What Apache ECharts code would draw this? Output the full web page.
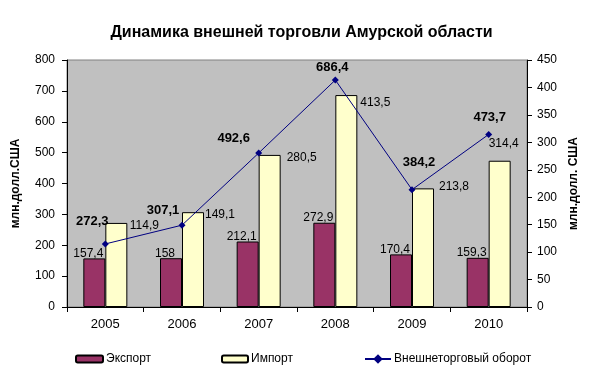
<!DOCTYPE html>
<html>
<head>
<meta charset="utf-8">
<script src="https://cdn.jsdelivr.net/npm/echarts@6/dist/echarts.min.js"></script>
<style>
html,body{margin:0;padding:0;background:#fff;}
#chart{width:603px;height:387px;}
</style>
</head>
<body>
<div id="chart"></div>
<script>
var years = ['2005', '2006', '2007', '2008', '2009', '2010'];
var exportVals = [157.4, 158, 212.1, 272.9, 170.4, 159.3];
var importVals = [114.9, 149.1, 280.5, 413.5, 213.8, 314.4];
var turnoverVals = [272.3, 307.1, 492.6, 686.4, 384.2, 473.7];
var leftTicks = [0, 800, 100];
var rightTicks = [0, 450, 50];

// label placement (style only)
var barLabelOffsets = [[28, 9], [27, 9], [32, 9], [29, 14], [31, 4], [4, -11]];
var lineLabelOffsets = [[-13, -13], [-19, -5], [-25, -5], [-3, -3], [7, -17], [1, -7]];

function fmt(v) { return String(v).replace('.', ','); }

var FONT = '"Liberation Sans", Arial, sans-serif';

var chart = echarts.init(document.getElementById('chart'), null, {renderer: 'canvas'});

var importBarData = turnoverVals.map(function (v, i) {
  return {
    value: v,
    label: {
      show: true, position: 'top', distance: 0,
      offset: barLabelOffsets[i],
      formatter: fmt(importVals[i])
    }
  };
});

var lineData = importVals.map(function (v, i) {
  return {
    value: v,
    label: {
      show: true, position: 'top', distance: 0,
      offset: lineLabelOffsets[i],
      formatter: fmt(turnoverVals[i])
    }
  };
});

var legendText = {fontFamily: FONT, fontSize: 12, color: '#000', padding: [0, 0, 0, -2]};

var option = {
  backgroundColor: '#ffffff',
  animation: false,
  textStyle: {fontFamily: FONT, color: '#000'},
  title: {
    text: 'Динамика внешней торговли Амурской области',
    left: 'center', top: 20,
    textStyle: {fontFamily: FONT, fontSize: 16, fontWeight: 'bold', color: '#000'}
  },
  grid: {
    left: 67, right: 76, top: 60, bottom: 80,
    containLabel: false, outerBoundsMode: 'none',
    show: true, backgroundColor: '#C0C0C0', borderColor: '#808080', borderWidth: 1
  },
  legend: [
    {data: ['Экспорт'], left: 75, top: 353, padding: 0, itemWidth: 27, itemHeight: 7, itemGap: 0, textStyle: legendText},
    {data: ['Импорт'], left: 221, top: 353, padding: 0, itemWidth: 26, itemHeight: 7, itemGap: 0, textStyle: legendText},
    {data: ['Внешнеторговый оборот'], left: 364, top: 353, padding: 0, itemWidth: 26, itemHeight: 12, itemGap: 0, textStyle: legendText}
  ],
  xAxis: {
    type: 'category', data: years, boundaryGap: true,
    axisLine: {show: true, lineStyle: {color: '#000', width: 1}},
    axisTick: {show: true, length: 5, inside: false, lineStyle: {color: '#000'}},
    axisLabel: {fontFamily: FONT, fontSize: 13, color: '#000', margin: 11},
    splitLine: {show: false}
  },
  yAxis: [
    {
      type: 'value', position: 'left', min: leftTicks[0], max: leftTicks[1], interval: leftTicks[2],
      name: 'млн.долл.США', nameLocation: 'middle', nameRotate: 90, nameGap: 45,
      nameTextStyle: {fontFamily: FONT, fontSize: 12, fontWeight: 'bold', color: '#000'},
      axisLine: {show: true, lineStyle: {color: '#000', width: 1}},
      axisTick: {show: true, length: 5, inside: false, lineStyle: {color: '#000'}},
      axisLabel: {fontFamily: FONT, fontSize: 12, color: '#000', margin: 12},
      splitLine: {show: false}
    },
    {
      type: 'value', position: 'right', min: rightTicks[0], max: rightTicks[1], interval: rightTicks[2],
      name: 'млн.долл. США', nameLocation: 'middle', nameRotate: 90, nameGap: 38,
      nameTextStyle: {fontFamily: FONT, fontSize: 12, fontWeight: 'bold', color: '#000'},
      axisLine: {show: true, lineStyle: {color: '#000', width: 1}},
      axisTick: {show: true, length: 5, inside: false, lineStyle: {color: '#000'}},
      axisLabel: {fontFamily: FONT, fontSize: 12, color: '#000', margin: 10},
      splitLine: {show: false}
    }
  ],
  series: [
    {
      name: 'Экспорт', type: 'bar', yAxisIndex: 0, data: exportVals,
      barWidth: 22, barGap: '0%',
      itemStyle: {color: '#993366', borderColor: '#000', borderWidth: 1},
      label: {show: true, position: 'top', distance: 0, offset: [-6, 1], fontFamily: FONT, fontSize: 12, color: '#000',
        formatter: function (p) { return fmt(p.value); }}
    },
    {
      name: 'Импорт', type: 'bar', yAxisIndex: 0, data: importBarData,
      barWidth: 22, barGap: '0%',
      itemStyle: {color: '#FFFFCC', borderColor: '#000', borderWidth: 1},
      label: {show: true, fontFamily: FONT, fontSize: 12, color: '#000'}
    },
    {
      name: 'Внешнеторговый оборот', type: 'line', yAxisIndex: 1, data: lineData,
      symbol: 'diamond', symbolSize: 7,
      itemStyle: {color: '#000080'},
      lineStyle: {color: '#000080', width: 1},
      label: {show: true, fontFamily: FONT, fontSize: 13, fontWeight: 'bold', color: '#000'},
      z: 5
    }
  ]
};
chart.setOption(option);
</script>
</body>
</html>
